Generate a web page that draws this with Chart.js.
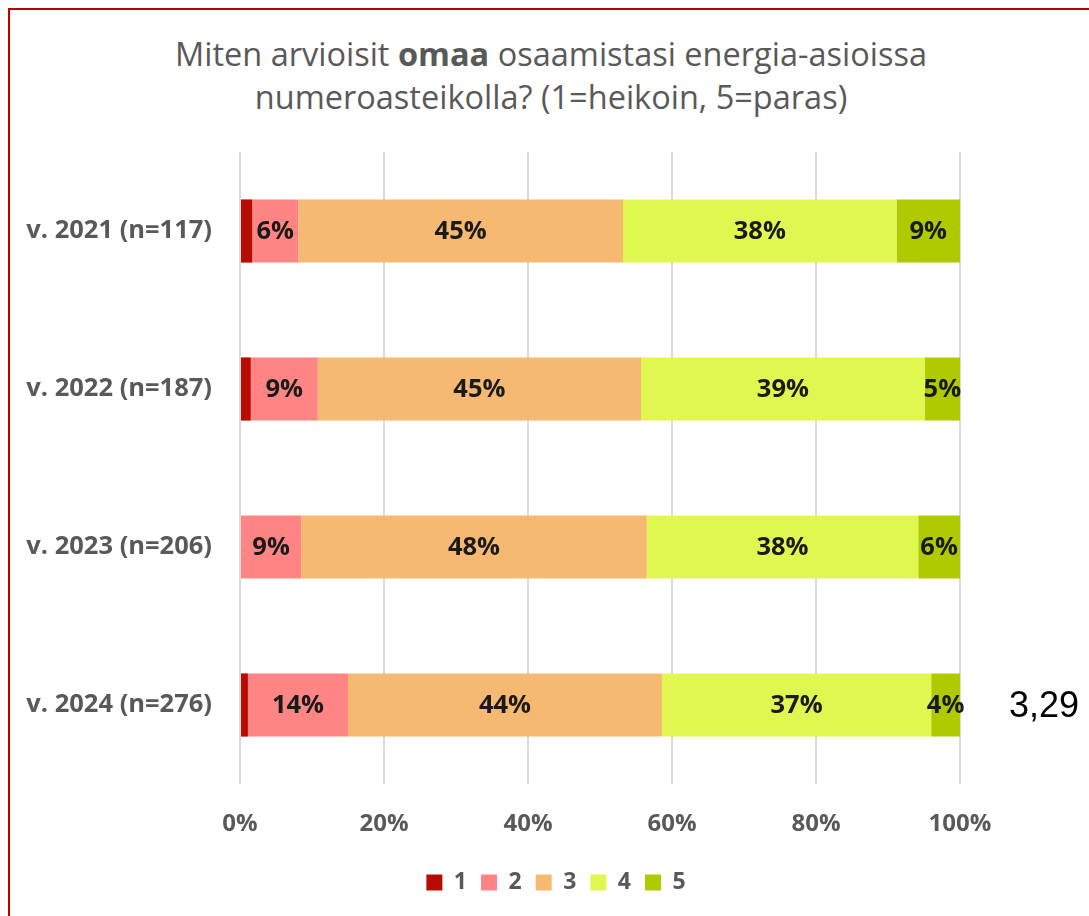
<!DOCTYPE html>
<html>
<head>
<meta charset="utf-8">
<script src="https://cdn.jsdelivr.net/npm/chart.js@4/dist/chart.umd.min.js"></script>
<style>
  html, body { margin: 0; padding: 0; background: #fff; overflow: hidden; }
  #frame { position: absolute; left: 8px; top: 8px; width: 1200px; height: 1000px;
           border-top: 2px solid #C00000; border-left: 2px solid #C00000; box-sizing: border-box; }
  #title { position: absolute; left: 0; top: 32px; width: 1102px; text-align: center;
           font-family: "Open Sans", Lato, sans-serif; font-size: 32.5px; line-height: 43px; color: #595959; }
  #wrap { position: absolute; left: 0; top: 0; width: 1089px; height: 916px; }
</style>
</head>
<body>
<div id="frame"></div>
<div id="title">Miten arvioisit <b>omaa</b> osaamistasi energia-asioissa<br>numeroasteikolla? (1=heikoin, 5=paras)</div>
<div id="wrap"><canvas id="c" width="1089" height="916"></canvas></div>
<script>
const categories = ['v. 2021 (n=117)', 'v. 2022 (n=187)', 'v. 2023 (n=206)', 'v. 2024 (n=276)'];
const seriesNames = ['1', '2', '3', '4', '5'];
const s1 = [1.7, 1.5, 0.0, 1.1];
const s2 = [6.4, 9.3, 8.5, 13.9];
const s3 = [45.1, 44.9, 48.0, 43.6];
const s4 = [38.0, 39.4, 37.7, 37.4];
const s5 = [8.8, 4.9, 5.8, 4.0];
const averages = ['', '', '', '3,29'];
const xTicks = [0, 20, 40, 60, 80, 100];
const colors = ['#B80C00', '#FF8585', '#F5B971', '#DFF74F', '#AFCB00'];
const showLabels = [false, true, true, true, true];

const allSeries = [s1, s2, s3, s4, s5];
const FONT = '"Open Sans", Lato, sans-serif';

const labelPlugin = {
  id: 'segLabels',
  afterDatasetsDraw(chart) {
    const ctx = chart.ctx;
    ctx.save();
    ctx.font = 'bold 25.5px ' + FONT;
    ctx.fillStyle = '#1a1a1a';
    ctx.textAlign = 'center';
    ctx.textBaseline = 'middle';
    chart.data.datasets.forEach((ds, i) => {
      if (!showLabels[i]) return;
      const meta = chart.getDatasetMeta(i);
      meta.data.forEach((bar, j) => {
        const v = ds.data[j];
        if (!v) return;
        const cx = (bar.x + bar.base) / 2;
        ctx.fillText(Math.round(v) + '%', cx, bar.y + 1);
      });
    });
    const xs = chart.scales.x, ys = chart.scales.y;
    ctx.font = '36px "Liberation Sans", Arial, sans-serif';
    ctx.fillStyle = '#000';
    ctx.textAlign = 'left';
    averages.forEach((a, j) => {
      if (!a) return;
      ctx.fillText(a, xs.getPixelForValue(100) + 49, ys.getPixelForValue(j) + 2);
    });
    ctx.restore();
  }
};

const legendShift = {
  id: 'legendShift',
  afterLayout(chart) {
    if (chart.legend) {
      chart.legend.left += 76;
      chart.legend.right += 76;
    }
  }
};

new Chart(document.getElementById('c'), {
  type: 'bar',
  data: {
    labels: categories,
    datasets: allSeries.map((d, i) => ({
      label: seriesNames[i],
      data: d,
      backgroundColor: colors[i],
      borderWidth: 0,
      barPercentage: 0.8,
      categoryPercentage: 0.5
    }))
  },
  options: {
    indexAxis: 'y',
    responsive: false,
    animation: false,
    devicePixelRatio: 1,
    layout: { padding: { top: 152, right: 129, left: 0, bottom: 12 } },
    scales: {
      x: {
        stacked: true, min: 0, max: 100,
        afterBuildTicks(scale) { scale.ticks = xTicks.map(v => ({ value: v })); },
        afterFit(scale) { scale.height = 73; },
        ticks: {
          callback: v => v + '%',
          font: { family: FONT, size: 24, weight: 'bold' },
          color: '#595959', padding: 26
        },
        grid: { color: '#d9d9d9', lineWidth: 2, drawTicks: false },
        border: { display: false }
      },
      y: {
        stacked: true,
        afterFit(scale) { scale.width = 240; },
        ticks: {
          font: { family: FONT, size: 25.5, weight: 'bold' },
          color: '#595959', padding: 28
        },
        grid: { display: false, drawTicks: false },
        border: { display: false }
      }
    },
    plugins: {
      title: { display: false },
      tooltip: { enabled: false },
      legend: {
        position: 'bottom',
        labels: {
          boxWidth: 16, boxHeight: 16, padding: 14,
          font: { family: FONT, size: 23, weight: 'bold' },
          color: '#595959'
        }
      }
    }
  },
  plugins: [labelPlugin, legendShift]
});
</script>
</body>
</html>
